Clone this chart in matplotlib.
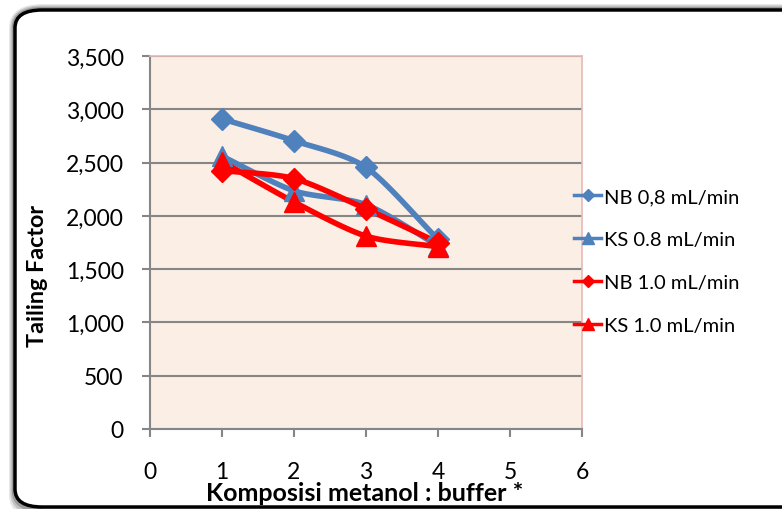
import numpy as np
import matplotlib
matplotlib.use("Agg")
import matplotlib.pyplot as plt
from matplotlib.patches import FancyBboxPatch
from matplotlib.ticker import FuncFormatter

# data
komposisi = [1, 2, 3, 4]
nb_08 = [2910, 2705, 2455, 1780]
ks_08 = [2560, 2235, 2105, 1720]
nb_10 = [2425, 2350, 2065, 1750]
ks_10 = [2510, 2130, 1810, 1710]

series_labels = ["NB 0,8 mL/min", "KS 0.8 mL/min", "NB 1.0 mL/min", "KS 1.0 mL/min"]
x_ticks = [0, 1, 2, 3, 4, 5, 6]
y_ticks = [0, 500, 1000, 1500, 2000, 2500, 3000, 3500]

blue = "#4F81BD"
red = "#FF0000"


def smooth(x, y, n=30):
    # catmull-rom style curve through the points (like excel "smoothed line")
    x = np.asarray(x, float)
    y = np.asarray(y, float)
    px = np.concatenate([[2 * x[0] - x[1]], x, [2 * x[-1] - x[-2]]])
    py = np.concatenate([[2 * y[0] - y[1]], y, [2 * y[-1] - y[-2]]])
    xs, ys = [], []
    t = np.linspace(0, 1, n)
    for i in range(1, len(px) - 2):
        for p, out in ((px, xs), (py, ys)):
            p0, p1, p2, p3 = p[i - 1], p[i], p[i + 1], p[i + 2]
            m1 = (p2 - p0) / 2 * 0.8
            m2 = (p3 - p1) / 2 * 0.8
            h00 = 2 * t**3 - 3 * t**2 + 1
            h10 = t**3 - 2 * t**2 + t
            h01 = -2 * t**3 + 3 * t**2
            h11 = t**3 - t**2
            out.extend(h00 * p1 + h10 * m1 + h01 * p2 + h11 * m2)
    return np.array(xs), np.array(ys)


plt.rcParams["font.family"] = ["Lato", "DejaVu Sans"]

fig = plt.figure(figsize=(7.82, 5.10), dpi=100)

# rounded outer frame with a soft shadow
for off, a in ((6, 0.10), (4, 0.15), (2, 0.2)):
    fig.patches.append(FancyBboxPatch((15 / 782, (2 - off) / 510), 800 / 782, (497 + off) / 510,
                                      boxstyle="round,pad=0,rounding_size=0.035",
                                      transform=fig.transFigure, facecolor="none",
                                      edgecolor="black", lw=2.5 + off, alpha=a, zorder=-3))
fig.patches.append(FancyBboxPatch((15 / 782, 2 / 510), 800 / 782, 497 / 510,
                                  boxstyle="round,pad=0,rounding_size=0.035",
                                  transform=fig.transFigure, facecolor="white",
                                  edgecolor="black", lw=2.5, zorder=-2))

ax = fig.add_axes([150 / 782, 1 - 430 / 510, 432 / 782, 373 / 510])
ax.set_zorder(1)
ax.set_facecolor("#FBEEE4")

series = [(nb_08, blue, "D"), (ks_08, blue, "^"), (nb_10, red, "D"), (ks_10, red, "^")]
for (vals, col, mk), lab in zip(series, series_labels):
    sx, sy = smooth(komposisi, vals)
    ax.plot(sx, sy, color=col, lw=4, solid_capstyle="round", zorder=3)
    ms = 11 if mk == "D" else 14
    ax.plot(komposisi, vals, linestyle="none", marker=mk, color=col, markersize=ms, zorder=4)

ax.set_xlim(0, 6)
ax.set_ylim(0, 3500)
ax.set_xticks(x_ticks)
ax.set_yticks(y_ticks)
ax.yaxis.set_major_formatter(FuncFormatter(lambda v, p: f"{int(v):,}"))
ax.grid(axis="y", color="#868686", lw=1.5)
ax.set_axisbelow(True)

for s in ("left", "bottom"):
    ax.spines[s].set_color("#868686")
    ax.spines[s].set_linewidth(1.5)
for s in ("top", "right"):
    ax.spines[s].set_color("#E6B9B8")
    ax.spines[s].set_linewidth(1.2)

ax.tick_params(axis="both", direction="out", length=6, width=1.5, color="#868686", labelsize=16.5)
ax.tick_params(axis="x", pad=17)
ax.tick_params(axis="y", pad=13)

fig.text(365 / 782, 1 - 494 / 510, "Komposisi metanol : buffer *", ha="center", va="center",
         fontsize=18, fontweight="bold")
fig.text(37 / 782, 1 - 276 / 510, "Tailing Factor", ha="center", va="center",
         rotation=90, fontsize=16.8, fontweight="bold")

handles = []
for col, mk in ((blue, "D"), (blue, "^"), (red, "D"), (red, "^")):
    h, = ax.plot([], [], color=col, lw=2.5, marker=mk, markersize=6 if mk == "D" else 8)
    handles.append(h)
fig.legend(handles, series_labels, loc="center left",
           bbox_to_anchor=(566 / 782, 1 - 262 / 510), frameon=False, fontsize=14.5,
           handlelength=1.35, handletextpad=0.12, labelspacing=1.28, borderaxespad=0)

fig.savefig("out.png", dpi=100)
